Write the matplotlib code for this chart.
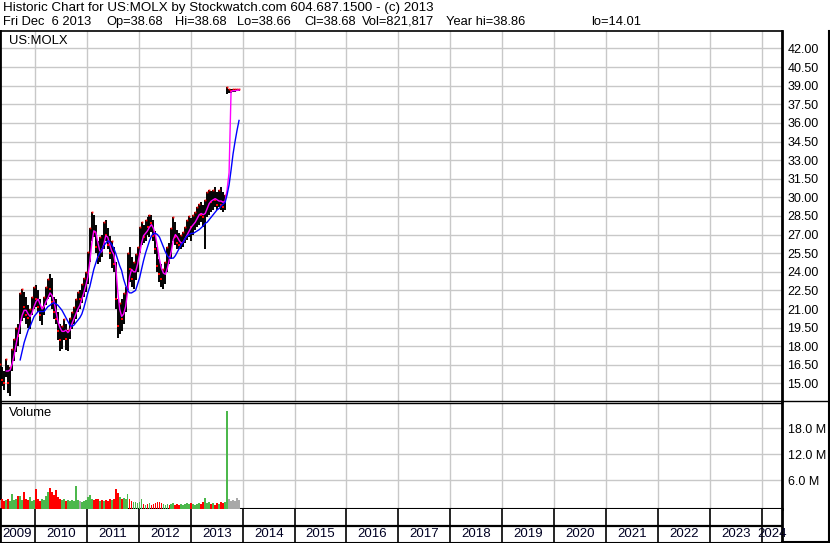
import numpy as np
import pandas as pd
import matplotlib
matplotlib.use("Agg")
import matplotlib.pyplot as plt
import matplotlib.dates as mdates
from matplotlib.lines import Line2D

plt.rcParams['font.family'] = ['Liberation Sans', 'DejaVu Sans']

# ---------------- data (bi-weekly samples) ----------------
DATES = pd.date_range('2009-05-01', periods=121, freq='14D')

HIGH = [16.6, 16.3, 16.0, 17.0, 16.5, 16.3, 17.8, 18.6, 19.5, 19.8,
        22.3, 22.6, 22.4, 22.0, 21.3, 21.0, 22.0, 22.8, 22.9, 22.5,
        21.8, 21.2, 22.0, 22.8, 23.4, 23.8, 23.5, 22.0, 21.8, 20.8,
        19.8, 19.6, 20.2, 19.8, 19.3, 20.3, 20.8, 21.2, 21.8, 22.4,
        22.5, 23.0, 23.5, 24.0, 25.6, 27.5, 28.8, 28.6, 27.8, 26.5,
        26.8, 27.0, 28.0, 28.2, 27.5, 26.9, 26.5, 26.0, 24.8, 21.8,
        21.5, 21.8, 22.3, 22.8, 25.5, 26.0, 25.2, 24.8, 25.4, 26.0,
        27.6, 28.0, 27.8, 28.2, 28.4, 28.6, 28.6, 28.2, 27.3, 26.0,
        25.0, 24.6, 24.2, 24.8, 26.0, 26.3, 27.5, 28.4, 28.0, 27.4,
        27.1, 27.0, 27.2, 27.6, 28.2, 28.5, 28.3, 28.6, 28.8, 29.2,
        29.5, 29.6, 29.4, 29.8, 30.4, 30.6, 30.5, 30.6, 30.8, 30.4,
        30.6, 30.8, 30.4, 30.2, 38.86, 38.7, 38.7, 38.7, 38.7, 38.7,
        38.7]
LOW = [15.0, 14.8, 14.5, 15.5, 14.2, 14.0, 16.0, 16.8, 17.5, 18.0,
       19.0, 20.0, 20.3, 19.8, 19.5, 19.4, 20.5, 21.0, 21.2, 20.8,
       20.0, 19.7, 20.5, 21.3, 21.8, 22.0, 21.0, 20.2, 19.8, 18.5,
       17.6, 17.8, 18.5, 17.7, 17.6, 18.6, 19.4, 19.8, 20.2, 20.8,
       21.0, 21.5, 22.0, 22.4, 23.0, 24.8, 26.5, 26.8, 25.5, 24.6,
       24.8, 25.2, 25.8, 26.5, 25.8, 25.0, 24.3, 24.0, 21.0, 18.7,
       19.0, 19.2, 19.8, 20.8, 22.5, 23.2, 22.8, 22.6, 23.3, 24.0,
       25.5, 26.2, 26.3, 26.5, 27.0, 26.8, 27.2, 26.5, 25.4, 24.0,
       23.2, 22.8, 22.6, 23.0, 24.0, 24.6, 25.0, 26.5, 26.2, 25.8,
       25.8, 25.8, 26.0, 26.3, 26.6, 26.8, 26.5, 27.0, 27.4, 27.6,
       27.8, 28.0, 27.6, 25.8, 28.4, 28.6, 28.8, 29.0, 29.2, 29.0,
       29.2, 29.0, 28.8, 29.0, 38.3, 38.4, 38.4, 38.5, 38.5, 38.55,
       38.6]
CLOSE = [15.8, 15.3, 15.0, 16.2, 15.0, 15.9, 17.3, 18.2, 19.0, 18.8,
         21.0, 21.8, 21.2, 20.5, 20.3, 20.8, 21.5, 22.2, 21.8, 21.2,
         20.5, 20.8, 21.6, 22.4, 22.9, 22.6, 21.6, 20.8, 20.2, 19.2,
         18.5, 19.0, 19.4, 18.6, 18.8, 19.9, 20.2, 20.6, 21.3, 21.9,
         21.8, 22.6, 23.0, 23.6, 25.2, 27.0, 28.0, 27.2, 26.0, 25.2,
         26.2, 25.8, 27.5, 27.0, 26.2, 25.5, 25.6, 24.6, 21.8, 19.6,
         20.6, 20.2, 21.6, 22.2, 24.8, 24.2, 23.4, 24.2, 24.8, 25.6,
         27.0, 27.4, 26.8, 27.8, 27.6, 28.2, 27.9, 26.9, 25.8, 24.5,
         23.8, 23.4, 23.6, 24.3, 25.6, 25.2, 27.0, 27.6, 26.8, 26.3,
         26.2, 26.4, 26.8, 27.2, 27.6, 28.0, 27.6, 28.2, 28.4, 28.8,
         29.0, 28.6, 28.4, 29.2, 29.8, 30.0, 29.6, 30.2, 29.8, 29.4,
         30.0, 29.4, 29.2, 29.6, 38.55, 38.6, 38.55, 38.6, 38.6, 38.65,
         38.68]
NAN = np.nan
MA_FAST = [NAN, NAN, NAN, 16.0, 16.0, 16.1, 16.6, 17.3, 18.2, 19.0,
           19.8, 20.5, 20.9, 20.9, 20.6, 20.4, 20.7, 21.2, 21.6, 21.8,
           21.4, 21.0, 21.2, 21.6, 21.9, 22.3, 22.1, 21.6, 20.8, 20.0,
           19.5, 19.2, 19.2, 19.3, 19.1, 19.3, 19.8, 20.2, 20.6, 21.0,
           21.3, 21.8, 22.3, 22.9, 23.6, 24.8, 26.3, 27.3, 27.2, 26.4,
           25.7, 25.6, 26.2, 26.9, 26.8, 26.2, 25.7, 25.4, 24.5, 22.5,
           21.0, 20.4, 20.6, 21.2, 22.4, 23.6, 24.2, 24.0, 24.0, 24.6,
           25.4, 26.3, 26.9, 27.1, 27.3, 27.6, 27.8, 27.5, 26.9, 26.0,
           25.0, 24.3, 23.9, 23.8, 24.3, 25.0, 25.7, 26.6, 27.0, 26.8,
           26.5, 26.3, 26.4, 26.7, 27.0, 27.3, 27.6, 27.8, 28.0, 28.3,
           28.6, 28.7, 28.6, 28.7, 29.1, 29.5, 29.7, 29.8, 29.9, 29.8,
           29.7, 29.7, 29.6, 29.7, 30.6, 32.0, 38.55, 38.6, 38.6, 38.62,
           38.65]
MA_SLOW = [NAN, NAN, NAN, NAN, NAN, NAN, NAN, NAN, NAN, NAN,
           16.9, 17.6, 18.3, 18.8, 19.3, 19.6, 20.0, 20.4, 20.6, 20.8,
           20.8, 20.8, 20.8, 21.0, 21.2, 21.3, 21.45, 21.5, 21.4, 21.3,
           21.1, 20.9, 20.6, 20.3, 20.0, 19.7, 19.6, 19.7, 19.9, 20.1,
           20.3, 20.6, 21.1, 21.7, 22.3, 22.8, 23.5, 24.2, 24.7, 25.2,
           25.5, 25.8, 26.1, 26.3, 26.5, 26.4, 26.2, 25.9, 25.5, 25.0,
           24.5, 24.1, 23.4, 22.9, 22.5, 22.3, 22.3, 22.4, 22.5, 23.0,
           23.5, 24.2, 24.9, 25.5, 26.0, 26.5, 26.9, 27.1, 27.1, 27.0,
           26.8, 26.4, 26.0, 25.6, 25.3, 25.1, 25.1, 25.1, 25.3, 25.6,
           25.9, 26.2, 26.4, 26.7, 26.9, 27.0, 27.1, 27.1, 27.2, 27.3,
           27.4, 27.55, 27.7, 27.9, 28.0, 28.2, 28.4, 28.6, 28.8, 29.0,
           29.1, 29.3, 29.45, 29.6, 30.2, 31.0, 32.2, 33.5, 34.5, 35.4,
           36.2]
VOLUME = [1.4, 1.5, 1.2, 1.4, 1.5, 1.1, 2.8, 1.4, 1.5, 2.2,
          2.3, 1.4, 3.3, 1.7, 1.4, 2.0, 1.2, 1.4, 3.85, 1.5,
          1.2, 1.7, 1.4, 2.2, 3.2, 4.2, 3.1, 2.5, 3.7, 2.0,
          1.7, 1.4, 1.5, 1.2, 1.4, 1.1, 1.4, 1.2, 4.6, 1.4,
          1.1, 0.9, 1.1, 1.4, 2.0, 2.5, 1.7, 1.4, 1.7, 1.5,
          1.2, 1.4, 1.1, 1.4, 1.2, 1.5, 1.4, 1.7, 3.9, 2.9,
          2.0, 1.7, 1.9, 1.5, 2.7, 1.5, 1.2, 0.9, 0.8, 0.6,
          0.9, 1.6, 0.5, 0.3, 0.5, 0.6, 0.3, 0.5, 0.6, 0.9,
          0.8, 0.6, 0.5, 0.3, 0.5, 0.3, 0.5, 0.6, 0.3, 0.5,
          0.3, 0.5, 0.3, 0.5, 0.6, 0.5, 0.6, 0.5, 0.3, 0.5,
          0.6, 0.5, 0.8, 1.9, 0.6, 0.9, 0.5, 0.6, 0.3, 0.6,
          0.5, 0.9, 0.6, 0.8, 21.9, 1.5, 1.2, 1.4, 1.1, 1.8,
          1.4]  # millions

PRICE_TICKS = [15.0, 16.5, 18.0, 19.5, 21.0, 22.5, 24.0, 25.5, 27.0, 28.5,
               30.0, 31.5, 33.0, 34.5, 36.0, 37.5, 39.0, 40.5, 42.0]
VOL_TICKS = [6.0, 12.0, 18.0]
YEARS = list(range(2009, 2025))

HEADER1 = "Historic Chart for US:MOLX by Stockwatch.com 604.687.1500 - (c) 2013"
HEADER2_FIELDS = ["Fri Dec  6 2013", "Op=38.68", "Hi=38.68", "Lo=38.66",
                  "Cl=38.68", "Vol=821,817", "Year hi=38.86", "lo=14.01"]
HEADER2_X = [3, 106, 175, 237, 304, 362, 446, 591]  # px, layout only
SYMBOL = "US:MOLX"

# ---------------- layout ----------------
W, H = 830, 543
fig = plt.figure(figsize=(W / 100, H / 100), dpi=100)
fig.patch.set_facecolor('white')


def fy(py):
    return 1 - py / H


PR = 782  # right edge of plot area in px
ax_p = fig.add_axes([0, fy(400.7), PR / W, (400.7 - 31) / H])
ax_v = fig.add_axes([0, fy(509), PR / W, (509 - 402.7) / H])
ax_s = fig.add_axes([0, fy(542.5), PR / W, (542.5 - 509) / H])

x0 = mdates.date2num(pd.Timestamp('2009-04-29'))
x1 = mdates.date2num(pd.Timestamp('2024-05-23'))
year_bounds = [mdates.date2num(pd.Timestamp(f'{y}-01-01')) for y in YEARS[1:]]
xd = mdates.date2num(DATES)

GRID = '#c8c8c8'
TXT = 9

high = np.array(HIGH)
low = np.array(LOW)
close = np.array(CLOSE)
vol = np.array(VOLUME)

# ---- price panel ----
ax_p.set_xlim(x0, x1)
ax_p.set_ylim(13.61, 43.41)
ax_p.set_xticks(year_bounds)
ax_p.set_yticks(PRICE_TICKS)
ax_p.grid(True, color=GRID, lw=1.0)
ax_p.set_axisbelow(True)
ax_p.yaxis.tick_right()
ax_p.tick_params(axis='both', length=0, labelbottom=False, labelleft=False,
                 labelright=True, labelsize=TXT, pad=4)
ax_p.set_yticklabels([f'{t:.2f}' for t in PRICE_TICKS])

ax_p.vlines(xd, low, high, color='black', lw=1.4, zorder=3)
down = np.r_[False, close[1:] < close[:-1]]
ax_p.plot(xd[down], close[down], ls='none', marker='s', ms=1.6, mew=0,
          color='red', zorder=4)
ax_p.plot(xd[~down], high[~down], ls='none', marker='s', ms=1.3, mew=0,
          color='red', zorder=4)
ax_p.plot(xd, MA_FAST, color='#ff00ff', lw=1.0, zorder=5)
ax_p.plot(xd, MA_SLOW, color='#0000ff', lw=1.0, zorder=6)

# ---- volume panel ----
VOL_FLOOR = -0.73
ax_v.set_xlim(x0, x1)
ax_v.set_ylim(VOL_FLOOR, 23.94)
ax_v.set_xticks(year_bounds)
ax_v.set_yticks(VOL_TICKS)
ax_v.grid(True, color=GRID, lw=1.0)
ax_v.set_axisbelow(True)
ax_v.yaxis.tick_right()
ax_v.tick_params(axis='both', length=0, labelbottom=False, labelleft=False,
                 labelright=True, labelsize=TXT, pad=4)
ax_v.set_yticklabels([f'{t:.1f} M' for t in VOL_TICKS])

chg = np.r_[0.0, np.diff(close)]
cols = np.where(chg > 0.1, '#4cb84c', np.where(chg < -0.1, '#ff0000', '#a8a8a8'))
ax_v.bar(xd, vol - VOL_FLOOR, bottom=VOL_FLOOR, width=12.5, color=cols,
         lw=0, zorder=3)

# ---- date strip ----
ax_s.set_xlim(x0, x1)
ax_s.set_ylim(0, 1)
ax_s.set_xticks([])
ax_s.set_yticks([])
for b in year_bounds:
    ax_s.axvline(b, color='black', lw=1.2)
ax_s.axhline(0.5, color='black', lw=1.6)
for y in YEARS:
    a = max(mdates.date2num(pd.Timestamp(f'{y}-01-01')), x0)
    b = min(mdates.date2num(pd.Timestamp(f'{y + 1}-01-01')), x1)
    ax_s.text((a + b) / 2, 0.24, str(y), ha='center', va='center',
              fontsize=9.5, color='#000022', clip_on=False)

# ---- spines ----
for ax in (ax_p, ax_v, ax_s):
    for s in ax.spines.values():
        s.set_color('black')
    ax.spines['left'].set_linewidth(2.0)
    ax.spines['right'].set_linewidth(2.0)
ax_p.spines['top'].set_linewidth(1.2)
ax_p.spines['bottom'].set_linewidth(1.0)
ax_v.spines['top'].set_linewidth(1.0)
ax_v.spines['bottom'].set_linewidth(1.5)
ax_s.spines['top'].set_visible(False)
ax_s.spines['bottom'].set_linewidth(1.5)

# outer frame on the right label area
fig.add_artist(Line2D([829.2 / W, 829.2 / W], [fy(31), fy(543)], color='black', lw=1.5))
fig.add_artist(Line2D([PR / W, 1], [fy(542.2), fy(542.2)], color='black', lw=1.5))
fig.add_artist(Line2D([PR / W, 1], [fy(400.7), fy(400.7)], color='black', lw=1.0))

# ---- texts ----
fig.text(3 / W, fy(8), HEADER1, fontsize=9.6, va='center', ha='left')
for txt, px in zip(HEADER2_FIELDS, HEADER2_X):
    fig.text(px / W, fy(22), txt, fontsize=9.3, va='center', ha='left')
fig.text(9 / W, fy(41), SYMBOL, fontsize=9.4, va='center', ha='left')
fig.text(9 / W, fy(413), 'Volume', fontsize=9.4, va='center', ha='left')

fig.savefig('out.png', dpi=100, facecolor='white')
